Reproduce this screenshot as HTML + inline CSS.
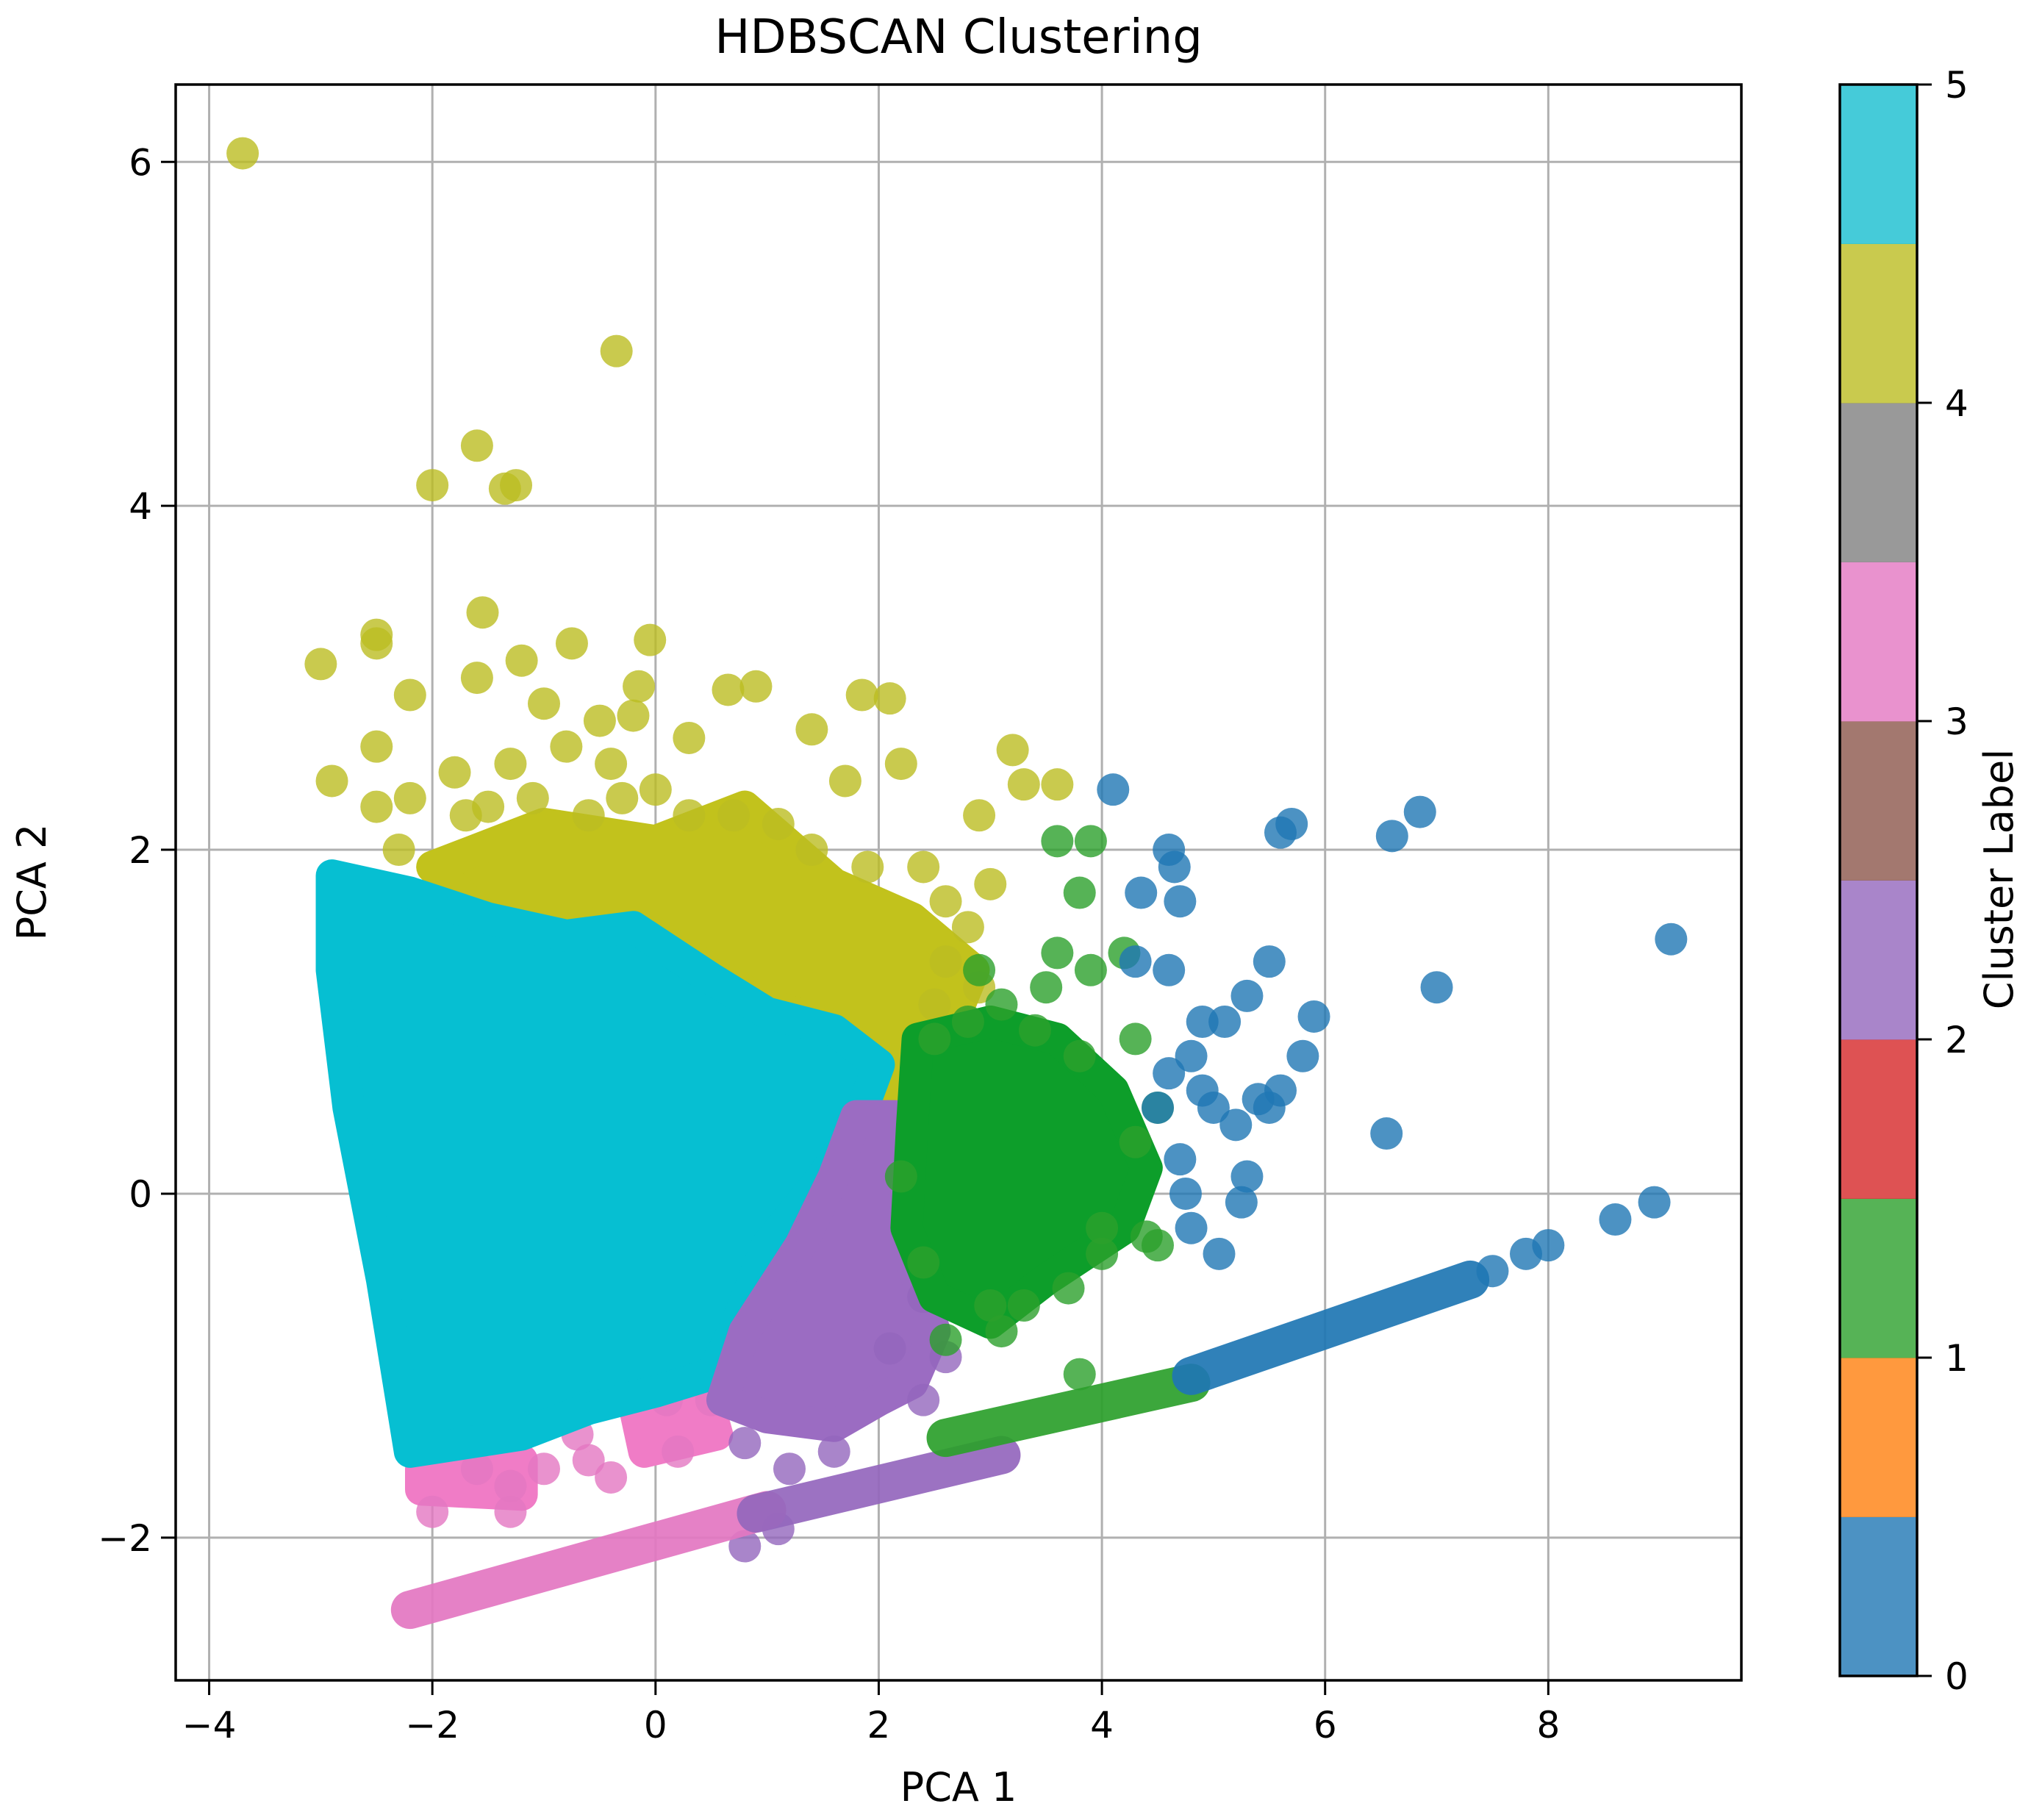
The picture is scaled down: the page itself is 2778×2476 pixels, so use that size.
<!DOCTYPE html>
<html><head><meta charset="utf-8"><style>
html,body{margin:0;padding:0;background:#fff;}
svg{display:block;font-family:"DejaVu Sans","Liberation Sans",sans-serif;}
</style></head><body>
<svg id="chart" width="2778" height="2476" viewBox="0 0 2778 2476" xmlns="http://www.w3.org/2000/svg">
<rect width="2778" height="2476" fill="#fff"/>
<text x="1304" y="72" font-size="64" text-anchor="middle">HDBSCAN Clustering</text>
<g id="grid"></g>
<g id="plot"></g>
<g id="axes"></g>
<g id="cbar"></g>
<text x="1304" y="2450" font-size="54" text-anchor="middle">PCA 1</text>
<text x="62" y="1200" font-size="54" text-anchor="middle" transform="rotate(-90 62 1200)">PCA 2</text>
<text x="2738" y="1196" font-size="54" text-anchor="middle" transform="rotate(-90 2738 1196)">Cluster Label</text>
</svg>
<script>
const xTicks=[-4,-2,0,2,4,6,8];
const yTicks=[-2,0,2,4,6];
const cbTicks=[0,1,2,3,4,5];
const cbColors=["#1f77b4","#ff7f0e","#2ca02c","#d62728","#9467bd","#8c564b","#e377c2","#7f7f7f","#bcbd22","#17becf"];
const clusterColors={0:"#1f77b4",1:"#2ca02c",2:"#9467bd",3:"#e377c2",4:"#bcbd22",5:"#17becf"};
const denseColors={0:"#0a78b8",1:"#0d9e2a",2:"#9b6cc2",3:"#f07cc6",4:"#c2c21c",5:"#06bfd2"};
const blobOlive=[[-2.0,1.9],[-1.0,2.15],[0,2.05],[0.8,2.25],[1.6,1.8],[2.3,1.6],[2.85,1.3],[2.6,0.9],[2.2,0.5],[2.0,0.8],[1.5,1.0],[1.0,1.1],[0.5,1.3],[-0.2,1.6],[-0.8,1.55],[-1.5,1.6]];
const blobCyan=[[-2.9,1.85],[-2.2,1.75],[-1.5,1.6],[-0.8,1.5],[-0.2,1.55],[0.5,1.25],[1.0,1.05],[1.6,0.95],[2.0,0.75],[1.8,0.4],[1.5,0.1],[1.0,-0.3],[0.7,-0.8],[0.5,-1.05],[0,-1.15],[-0.6,-1.25],[-1.2,-1.4],[-2.2,-1.5],[-2.45,-0.5],[-2.75,0.5],[-2.9,1.3]];
const blobGreen=[[2.35,0.9],[3.0,1.0],[3.6,0.9],[4.1,0.6],[4.4,0.15],[4.2,-0.2],[3.5,-0.5],[3.0,-0.75],[2.5,-0.6],[2.25,-0.2],[2.3,0.4]];
const blobPurple=[[1.8,0.45],[2.15,0.45],[2.3,-0.4],[2.5,-0.8],[2.3,-1.1],[2.0,-1.2],[1.6,-1.35],[1.0,-1.3],[0.6,-1.2],[0.8,-0.8],[1.3,-0.3],[1.6,0.1]];
const blobPink=[[-2.1,-1.6],[-1.2,-1.55],[-1.2,-1.75],[-2.1,-1.72]];
const blobPink2=[[-0.2,-1.2],[0.4,-1.05],[0.55,-1.4],[-0.1,-1.5]];
const bandClusters=[3,2,1,0];
const bandStart=[[-2.2,-2.42],[0.9,-1.86],[2.6,-1.42],[4.8,-1.06]];
const bandEnd=[[1.0,-1.84],[3.1,-1.52],[4.8,-1.1],[7.3,-0.5]];
const olivePts=[[-3.7,6.05],[-0.35,4.9],[-1.6,4.35],[-2.0,4.12],[-1.35,4.1],[-1.25,4.12],[-1.55,3.38],[-3.0,3.08],[-2.5,3.2],[-2.5,3.25],[-0.05,3.22],[-0.75,3.2],[-1.2,3.1],[-1.6,3.0],[-2.2,2.9],[-0.15,2.95],[0.65,2.93],[0.9,2.95],[1.85,2.9],[2.1,2.88],[1.4,2.7],[0.3,2.65],[-0.2,2.78],[-0.5,2.75],[-2.9,2.4],[-2.5,2.6],[-2.2,2.3],[-1.8,2.45],[-1.3,2.5],[3.2,2.58],[3.6,2.38],[3.3,2.38],[2.9,2.2],[1.7,2.4],[2.2,2.5],[-2.5,2.25],[-1.0,2.85],[-0.8,2.6],[2.4,1.9],[2.6,1.7],[3.0,1.8],[0.7,2.2],[0.0,2.35],[-1.7,2.2],[-0.4,2.5],[2.8,1.55],[-0.1,0.85],
[-1.5,2.25],[-1.1,2.3],[-0.6,2.2],[0.3,2.2],[1.1,2.15],[1.4,2.0],[1.9,1.9],[2.6,1.35],[2.9,1.2],[2.5,1.1],[-2.3,2.0],[-0.3,2.3]];
const greenPts=[[3.6,2.05],[3.9,2.05],[3.8,1.75],[3.6,1.4],[3.9,1.3],[4.2,1.4],[3.1,1.1],[3.5,1.2],[4.3,0.9],[4.5,0.5],[4.4,-0.25],[4.5,-0.3],[3.7,-0.55],[3.0,-0.65],[3.1,-0.8],[2.6,-0.85],[3.8,-1.05],[4.0,-0.2],[2.9,1.3],
[2.5,0.9],[2.8,1.0],[3.4,0.95],[3.8,0.8],[4.3,0.3],[4.0,-0.35],[3.3,-0.65],[2.4,-0.4],[2.2,0.1]];
const bluePts=[[4.1,2.35],[4.6,2.0],[4.65,1.9],[4.7,1.7],[4.35,1.75],[4.3,1.35],[4.6,1.3],[4.9,1.0],[5.1,1.0],[5.5,1.35],[5.3,1.15],[5.8,0.8],[5.9,1.03],[5.6,0.6],[5.4,0.55],[5.2,0.4],[4.9,0.6],[5.0,0.5],[4.6,0.7],[4.5,0.5],[4.8,0.8],[5.5,0.5],[4.7,0.2],[5.3,0.1],[5.25,-0.05],[5.05,-0.35],[4.8,-0.2],[5.6,2.1],[5.7,2.15],[4.75,0.0],[6.6,2.08],[6.85,2.22],[7.0,1.2],[9.1,1.48],[6.55,0.35],[8.95,-0.05],[8.6,-0.15],[8.0,-0.3],[7.8,-0.35],[7.5,-0.45]];
const purplePts=[[2.1,-0.9],[2.4,-1.2],[1.6,-1.5],[0.8,-1.45],[1.2,-1.6],[0.8,-2.05],[1.1,-1.95],[2.4,-0.6],[2.6,-0.95]];
const pinkPts=[[-2.0,-1.85],[-1.3,-1.85],[-0.7,-1.4],[0.2,-1.5],[-1.3,-1.7],[-0.4,-1.65],[-1.0,-1.6],[-0.6,-1.55],[-1.6,-1.6],[0.5,-1.2],[0.1,-1.2]];

const NS="http://www.w3.org/2000/svg";
const L=239,R=2369,T=115,B=2286,XMIN=-4.30,XMAX=9.73,YMIN=-2.83,YMAX=6.45;
const sx=v=>L+(v-XMIN)/(XMAX-XMIN)*(R-L);
const sy=v=>B-(v-YMIN)/(YMAX-YMIN)*(B-T);
const RAD=22,OP=0.8;
function mk(tag,attrs,parent){const e=document.createElementNS(NS,tag);for(const k in attrs)e.setAttribute(k,attrs[k]);parent.appendChild(e);return e;}
const grid=document.getElementById('grid'),plot=document.getElementById('plot'),axes=document.getElementById('axes'),cbar=document.getElementById('cbar');
xTicks.forEach(t=>{const e=mk('line',{x1:sx(t),x2:sx(t),y1:T,y2:B,stroke:'#b0b0b0','stroke-width':3},grid);

});
yTicks.forEach(t=>{const e=mk('line',{x1:L,x2:R,y1:sy(t),y2:sy(t),stroke:'#b0b0b0','stroke-width':3},grid);

});
function blob(pts,c,name){const d=pts.map(p=>sx(p[0])+','+sy(p[1])).join(' ');
const e=mk('polygon',{points:d,fill:denseColors[c],stroke:denseColors[c],'stroke-width':2*RAD,'stroke-linejoin':'round'},plot);

}
function pts(arr,c,name){arr.forEach(p=>{const e=mk('circle',{cx:sx(p[0]),cy:sy(p[1]),r:RAD,fill:clusterColors[c],'fill-opacity':OP},plot);

});}
blob(blobOlive,4,'cluster-4-region');
pts(olivePts,4,'cluster-4-point');
blob(blobPink,3,'cluster-3-region');
blob(blobPink2,3,'cluster-3-region');
pts(pinkPts,3,'cluster-3-point');
blob(blobCyan,5,'cluster-5-region');
blob(blobPurple,2,'cluster-2-region');
pts(purplePts,2,'cluster-2-point');
blob(blobGreen,1,'cluster-1-region');
pts(greenPts,1,'cluster-1-point');
pts(bluePts,0,'cluster-0-point');
bandClusters.forEach((c,i)=>{const e=mk('line',{x1:sx(bandStart[i][0]),y1:sy(bandStart[i][1]),x2:sx(bandEnd[i][0]),y2:sy(bandEnd[i][1]),stroke:clusterColors[c],'stroke-width':2*RAD+8,'stroke-linecap':'round',opacity:0.92},plot);

});
let e=mk('rect',{x:L,y:T,width:R-L,height:B-T,fill:'none',stroke:'#000','stroke-width':3.5},axes);


xTicks.forEach(t=>{mk('line',{x1:sx(t),x2:sx(t),y1:B,y2:B+20,stroke:'#000','stroke-width':3},axes);
const tx=mk('text',{x:sx(t),y:B+78,'font-size':50,'text-anchor':'middle'},axes);tx.textContent=(t<0?'\u2212':'')+Math.abs(t);

});
yTicks.forEach(t=>{mk('line',{x1:L-20,x2:L,y1:sy(t),y2:sy(t),stroke:'#000','stroke-width':3},axes);
const tx=mk('text',{x:L-32,y:sy(t)+18,'font-size':50,'text-anchor':'end'},axes);tx.textContent=(t<0?'\u2212':'')+Math.abs(t);

});
const CL=2503,CR=2608,CT=115,CB=2280,bh=(CB-CT)/cbColors.length;
cbColors.forEach((c,i)=>{const r=mk('rect',{x:CL,y:CB-(i+1)*bh,width:CR-CL,height:bh+0.5,fill:c,'fill-opacity':0.8},cbar);

});
e=mk('rect',{x:CL,y:CT,width:CR-CL,height:CB-CT,fill:'none',stroke:'#000','stroke-width':3.5},cbar);


cbTicks.forEach(t=>{const y=CB-t/5*(CB-CT);mk('line',{x1:CR,x2:CR+20,y1:y,y2:y,stroke:'#000','stroke-width':3},cbar);
const tx=mk('text',{x:CR+38,y:y+18,'font-size':50},cbar);tx.textContent=t;

});
</script>
</body></html>
